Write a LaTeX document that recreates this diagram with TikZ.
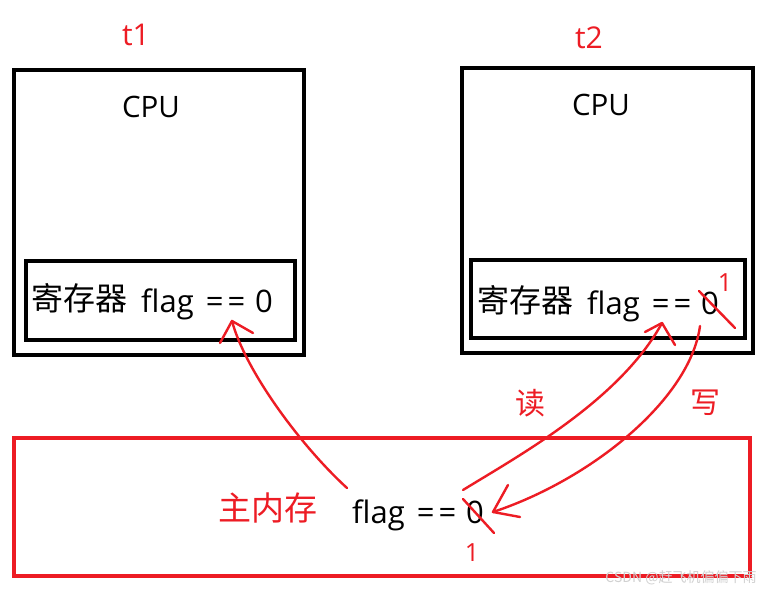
\documentclass[tikz,border=0pt]{standalone}
\usepackage{fontspec}
\setmainfont{Open Sans}
\newfontfamily\cjk{Noto Sans CJK SC}
\definecolor{pred}{RGB}{237,28,36}
\newcommand{\flagval}{flag\hspace{12pt}=\hspace{4pt}=\hspace{10pt}0}
\tikzset{
  blackbox/.style={draw=black,line width=4pt,inner sep=0pt},
  redbox/.style={draw=pred,line width=4pt,inner sep=0pt},
  ink/.style={draw=pred,line width=2.4pt,line cap=round,line join=round},
  lbl/.style={inner sep=0pt,font=\fontsize{31}{34}\selectfont},
  cpulbl/.style={inner sep=0pt,anchor=base,font=\fontsize{29.5}{32}\selectfont},
  cjklbl/.style={inner sep=0pt,font=\cjk\fontsize{32}{34}\selectfont},
  redlbl/.style={inner sep=0pt,text=pred,font=\fontsize{30}{32}\selectfont},
}
\begin{document}
\begin{tikzpicture}[x=1pt,y=-1pt]
\useasboundingbox (0,0) rectangle (768,593);
\fill[white] (0,0) rectangle (768,593);
% boxes
\node[blackbox,minimum width=290pt,minimum height=285pt] (cpu1) at (159,212.5) {};
\node[blackbox,minimum width=269pt,minimum height=79pt] (reg1) at (160.5,300.5) {};
\node[blackbox,minimum width=291pt,minimum height=285pt] (cpu2) at (607.5,210.5) {};
\node[blackbox,minimum width=274pt,minimum height=78pt] (reg2) at (608,299) {};
\node[redbox,minimum width=736pt,minimum height=138pt] (mem) at (382,507) {};
% labels
\node[redlbl,anchor=base] (t1) at (136,46) {t1};
\node[redlbl,anchor=base] (t2) at (589,49) {t2};
\node[cpulbl] (cpu1t) at (151,118) {CPU};
\node[cpulbl] (cpu2t) at (601,116) {CPU};
\node[cjklbl,anchor=base west] (reg1c) at (31,311) {寄存器};
\node[lbl,anchor=base west] (reg1v) at (141,313) {\flagval};
\node[cjklbl,anchor=base west] (reg2c) at (477,313) {寄存器};
\node[lbl,anchor=base west] (reg2v) at (587,315) {\flagval};
\node[cjklbl,text=pred,font=\cjk\fontsize{33}{36}\selectfont] (mainm) at (268,508) {主内存};
\node[lbl,anchor=base west] (memv) at (352,523) {\flagval};
\node[cjklbl,text=pred,font=\cjk\fontsize{30}{32}\selectfont] (rd) at (530,403) {读};
\node[cjklbl,text=pred,font=\cjk\fontsize{30}{32}\selectfont] (wr) at (705,403) {写};
\node[redlbl,font=\fontsize{25}{28}\selectfont] (one1) at (725,283) {1};
\node[redlbl,font=\fontsize{25}{28}\selectfont] (one2) at (472,553) {1};
\node[inner sep=0pt,text=black!18,font=\cjk\fontsize{14}{16}\selectfont] (wm) at (681,578) {CSDN @赶飞机偏偏下雨};
% strikes
\coordinate (s1a) at (699,291); \coordinate (s1b) at (735,328);
\coordinate (s2a) at (463,499); \coordinate (s2b) at (494,533);
\draw[ink] (s1a) -- (s1b);
\draw[ink] (s2a) -- (s2b);
% left arrow: memory -> register t1
\coordinate (ls) at (347,488); \coordinate (lt) at (232,321);
\coordinate (lb1) at (220,343); \coordinate (lb2) at (253,333);
\draw[ink] (ls) .. controls (300,445) and (245,370) .. (lt);
\draw[ink] (lb1) -- (lt) -- (lb2);
% read arrow
\coordinate (rs) at (463,490); \coordinate (rt) at (662,323);
\coordinate (rb1) at (645,332); \coordinate (rb2) at (675,345);
\draw[ink] (rs) .. controls (520,455) and (620,400) .. (rt);
\draw[ink] (rb1) -- (rt) -- (rb2);
% write arrow
\coordinate (ws) at (700,326); \coordinate (wt) at (493,512);
\coordinate (wb1) at (508,485); \coordinate (wb2) at (520,517);
\draw[ink] (ws) .. controls (690,400) and (590,480) .. (wt);
\draw[ink] (wb1) -- (wt) -- (wb2);
\end{tikzpicture}
\end{document}
